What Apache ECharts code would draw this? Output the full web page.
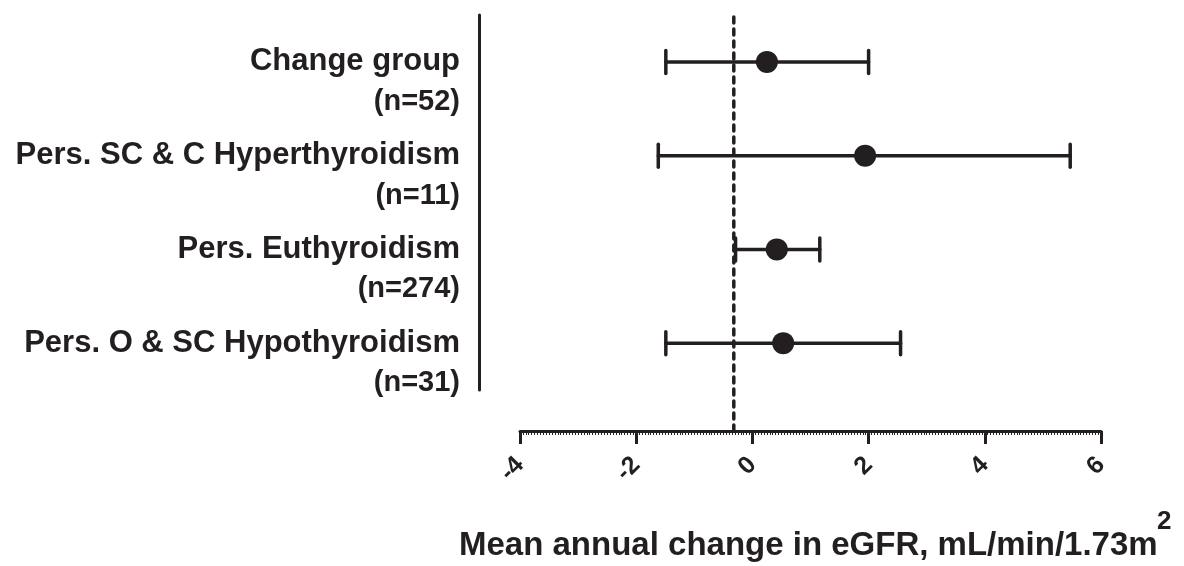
<!DOCTYPE html>
<html>
<head>
<meta charset="utf-8">
<script src="https://cdn.jsdelivr.net/npm/echarts@6/dist/echarts.min.js"></script>
<style>html,body{margin:0;padding:0;background:#fff}#c{width:1184px;height:566px}</style>
</head>
<body>
<div id="c"></div>
<script>
const categories = ['Change group', 'Pers. SC & C Hyperthyroidism', 'Pers. Euthyroidism', 'Pers. O & SC Hypothyroidism'];
const nLabels = ['(n=52)', '(n=11)', '(n=274)', '(n=31)'];
const means = [0.25, 1.94, 0.42, 0.53];
const lower = [-1.49, -1.62, -0.29, -1.49];
const upper = [2.0, 5.47, 1.16, 2.55];
const refLine = -0.32;
const xMin = -4, xMax = 6, xStep = 2;
const xTitle = 'Mean annual change in eGFR, mL/min/1.73m';
const xTitleSup = '2';

const INK = '#231f20';
const FONT = '"Liberation Sans", Arial, sans-serif';
const CAP = 23;

const chart = echarts.init(document.getElementById('c'), null, {renderer: 'canvas'});
chart.setOption({
  backgroundColor: '#fff',
  animation: false,
  title: [{
    left: 459, top: 529, padding: 0,
    text: xTitle,
    textStyle: {fontFamily: FONT, fontWeight: 'bold', fontSize: 33, color: INK}
  }, {
    left: 1157, top: 509, padding: 0,
    text: xTitleSup,
    textStyle: {fontFamily: FONT, fontWeight: 'bold', fontSize: 26, color: INK}
  }],
  grid: [
    {left: 520, right: 83, top: 15, bottom: 176},
    {left: 520, right: 83, top: 15, bottom: 135}
  ],
  xAxis: [{
    gridIndex: 0, type: 'value', min: xMin, max: xMax, interval: xStep, offset: 41,
    axisLine: {show: true, onZero: false, lineStyle: {color: INK, width: 3}},
    axisTick: {show: true, length: 13, lineStyle: {color: INK, width: 3}},
    minorTick: {show: true, splitNumber: 40, length: 4, lineStyle: {color: INK, width: 1}},
    splitLine: {show: false},
    axisLabel: {rotate: 45, margin: 30, fontFamily: FONT, fontWeight: 'bold', fontSize: 25, color: INK}
  }, {
    gridIndex: 1, type: 'value', min: xMin, max: xMax, show: false
  }],
  yAxis: [{
    gridIndex: 0, type: 'category', data: categories, inverse: true, offset: 41,
    axisLine: {show: true, onZero: false, lineStyle: {color: INK, width: 3}},
    axisTick: {show: false},
    splitLine: {show: false},
    axisLabel: {
      interval: 0, margin: 19, align: 'right',
      formatter: (v, i) => '{e| }\n{a|' + v + '}\n{b|' + nLabels[i] + '}',
      rich: {
        e: {fontSize: 10, lineHeight: 40},
        a: {fontFamily: FONT, fontWeight: 'bold', fontSize: 31, color: INK, lineHeight: 40, align: 'right'},
        b: {fontFamily: FONT, fontWeight: 'bold', fontSize: 29, color: INK, lineHeight: 40, align: 'right'}
      }
    }
  }, {
    gridIndex: 1, type: 'value', min: 0, max: 1, show: false
  }],
  series: [
    {
      type: 'line', xAxisIndex: 1, yAxisIndex: 1, symbol: 'none',
      data: [[refLine, 0], [refLine, 1]],
      lineStyle: {color: INK, width: 3.5, type: [6, 6], cap: 'round'},
      z: 1
    },
    {
      type: 'custom', xAxisIndex: 0, yAxisIndex: 0,
      data: categories.map((c, i) => [i, lower[i], upper[i]]),
      encode: {x: [1, 2], y: 0},
      renderItem: (params, api) => {
        const yi = api.value(0);
        const p1 = api.coord([api.value(1), yi]);
        const p2 = api.coord([api.value(2), yi]);
        const st = {stroke: INK, lineWidth: 3.5, lineCap: 'round'};
        return {type: 'group', children: [
          {type: 'line', shape: {x1: p1[0], y1: p1[1], x2: p2[0], y2: p2[1]}, style: st},
          {type: 'line', shape: {x1: p1[0], y1: p1[1] - CAP / 2, x2: p1[0], y2: p1[1] + CAP / 2}, style: st},
          {type: 'line', shape: {x1: p2[0], y1: p2[1] - CAP / 2, x2: p2[0], y2: p2[1] + CAP / 2}, style: st}
        ]};
      },
      z: 2
    },
    {
      type: 'scatter', xAxisIndex: 0, yAxisIndex: 0,
      data: means.map((m, i) => [m, categories[i]]),
      symbol: 'circle', symbolSize: 22,
      itemStyle: {color: INK, opacity: 1},
      z: 3
    }
  ]
});
</script>
</body>
</html>
